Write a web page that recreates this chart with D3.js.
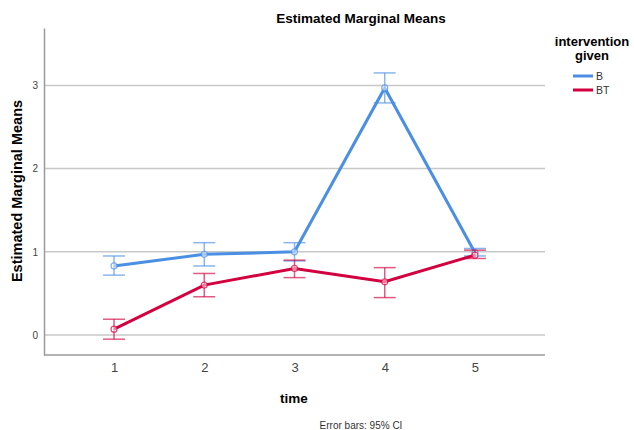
<!DOCTYPE html>
<html><head><meta charset="utf-8">
<script src="https://cdn.jsdelivr.net/npm/d3@7"></script>
<style>body{margin:0;background:#fff;}svg{display:block;font-family:Arial,"Liberation Sans",sans-serif;}</style>
</head><body><svg id="c" width="634" height="430"></svg>
<script>
const times = ["1","2","3","4","5"];
const seriesNames = ["B","BT"];
const colors = ["#4a8fe3","#d3003f"];
const meanB  = [0.83, 0.97, 1.00, 2.97, 0.99];
const lowB   = [0.72, 0.83, 0.89, 2.79, 0.95];
const highB  = [0.95, 1.11, 1.11, 3.15, 1.04];
const meanBT = [0.07, 0.60, 0.80, 0.64, 0.96];
const lowBT  = [-0.05, 0.46, 0.69, 0.45, 0.92];
const highBT = [0.19, 0.74, 0.90, 0.81, 1.02];
const yTicks = [0,1,2,3];

const svg = d3.select("#c");
const x = d3.scalePoint().domain(times).range([44,545]).padding(0.776);
const y = d3.scaleLinear().domain([-0.24, 3.69]).range([355, 28]);

// gridlines
svg.append("g").selectAll("line").data(yTicks).join("line")
  .attr("x1",44).attr("x2",545).attr("y1",d=>y(d)).attr("y2",d=>y(d))
  .attr("stroke","#c8c8c8").attr("stroke-width",1.5);

// axes
const yAxis = svg.append("g").attr("transform","translate(44,0)")
  .call(d3.axisLeft(y).tickValues(yTicks).tickFormat(d3.format("d")).tickSize(0).tickPadding(6));
yAxis.select(".domain").attr("stroke","#9a9a9a").attr("stroke-width",1.5);
yAxis.selectAll("text").attr("font-size",10).attr("fill","#444");

const xAxis = svg.append("g").attr("transform","translate(0,355)")
  .call(d3.axisBottom(x).tickSize(0).tickPadding(8));
xAxis.select(".domain").attr("stroke","#9a9a9a").attr("stroke-width",1.5).attr("d","M44,0H545");
xAxis.selectAll("text").attr("font-size",13).attr("fill","#444");

const series = [
  {name:seriesNames[0], mean:meanB, low:lowB, high:highB, color:colors[0]},
  {name:seriesNames[1], mean:meanBT, low:lowBT, high:highBT, color:colors[1]}
];
const line = d3.line().x((d,i)=>x(times[i])).y(d=>y(d));
series.forEach(s=>{
  const g = svg.append("g");
  const eb = g.append("g").attr("stroke",s.color).attr("stroke-opacity",0.65).attr("stroke-width",1.5);
  times.forEach((t,i)=>{
    eb.append("line").attr("x1",x(t)).attr("x2",x(t)).attr("y1",y(s.low[i])).attr("y2",y(s.high[i]));
    eb.append("line").attr("x1",x(t)-11).attr("x2",x(t)+11).attr("y1",y(s.low[i])).attr("y2",y(s.low[i]));
    eb.append("line").attr("x1",x(t)-11).attr("x2",x(t)+11).attr("y1",y(s.high[i])).attr("y2",y(s.high[i]));
  });
  g.append("path").datum(s.mean).attr("d",line).attr("fill","none")
    .attr("stroke",s.color).attr("stroke-width",3);
  g.selectAll("circle").data(s.mean).join("circle")
    .attr("cx",(d,i)=>x(times[i])).attr("cy",d=>y(d)).attr("r",3)
    .attr("fill","#fff").attr("fill-opacity",0.5).attr("stroke",s.color).attr("stroke-opacity",0.7).attr("stroke-width",1.2);
});

// titles
svg.append("text").attr("x",361).attr("y",23).attr("text-anchor","middle")
  .attr("font-size",13.5).attr("font-weight","bold").text("Estimated Marginal Means");
svg.append("text").attr("transform","translate(22,191) rotate(-90)").attr("text-anchor","middle")
  .attr("font-size",14.5).attr("font-weight","bold").text("Estimated Marginal Means");
svg.append("text").attr("x",294).attr("y",403).attr("text-anchor","middle")
  .attr("font-size",13.5).attr("font-weight","bold").text("time");
svg.append("text").attr("x",361).attr("y",429).attr("text-anchor","middle")
  .attr("font-size",10).attr("fill","#333").text("Error bars: 95% CI");

// legend
const lg = svg.append("g");
lg.append("text").attr("x",592).attr("y",46).attr("text-anchor","middle")
  .attr("font-size",13).attr("font-weight","bold").text("intervention");
lg.append("text").attr("x",592).attr("y",60).attr("text-anchor","middle")
  .attr("font-size",13).attr("font-weight","bold").text("given");
series.forEach((s,i)=>{
  const yy = 76 + i*14;
  lg.append("line").attr("x1",573).attr("x2",593).attr("y1",yy).attr("y2",yy)
    .attr("stroke",s.color).attr("stroke-width",3);
  lg.append("text").attr("x",596).attr("y",yy+4).attr("font-size",10.5).attr("fill","#333").text(s.name);
});
</script></body></html>
